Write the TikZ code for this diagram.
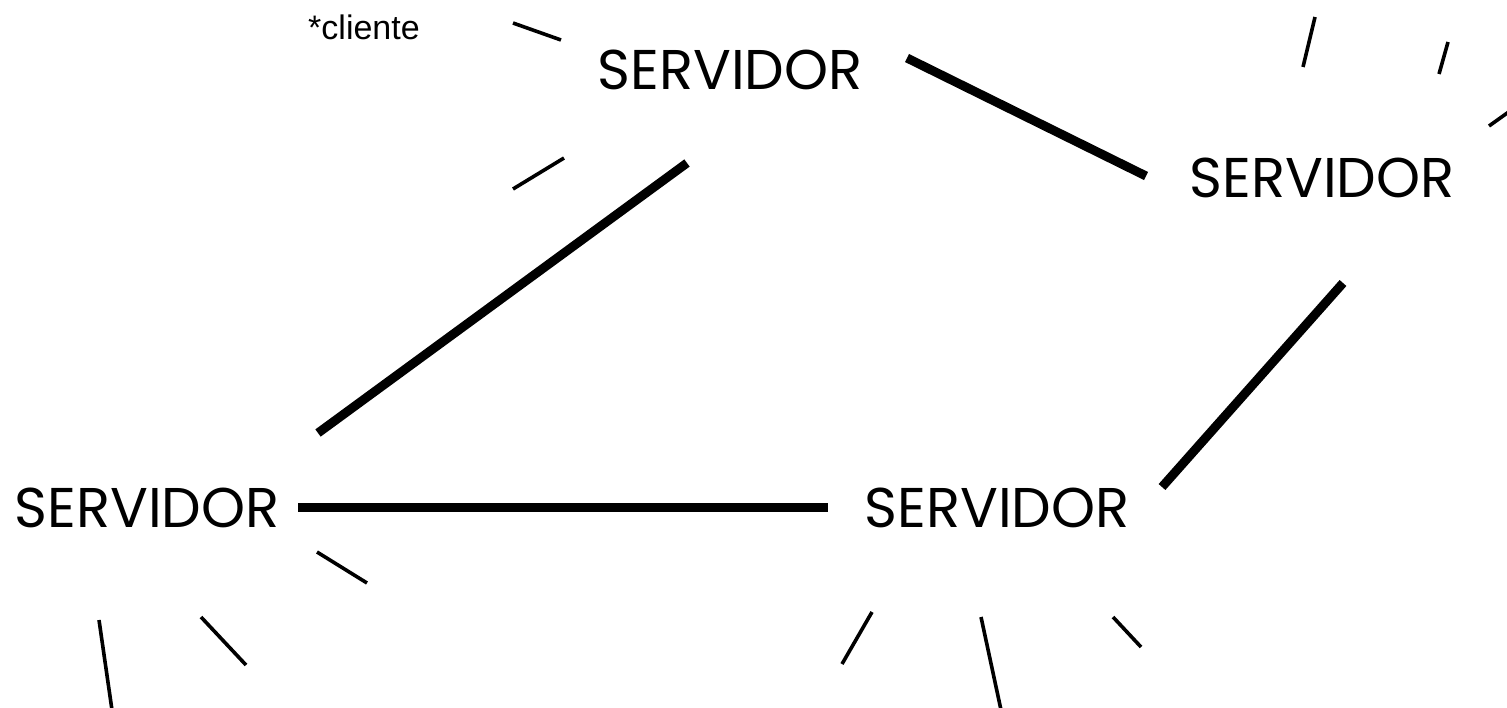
\documentclass[tikz,border=0pt]{standalone}
\usepackage{fontspec}
\setmainfont{Poppins}
\newfontfamily\helv{Liberation Sans}
\usetikzlibrary{positioning}

\begin{document}
\begin{tikzpicture}[
  x=0.5pt, y=-0.5pt,
  server/.style={inner sep=0pt, font=\fontsize{28}{31}\selectfont},
  link/.style={line width=4.5pt},
  client/.style={line width=1.8pt},
  note/.style={inner sep=0pt, font=\helv\fontsize{17}{20}\selectfont}
]
\clip (0,0) rectangle (1507,707);
\useasboundingbox (0,0) rectangle (1507,707);
\node[server] (top) at (730,70) {SERVIDOR};
\node[server] (right) at (1322,178) {SERVIDOR};
\node[server] (left) at (147,508) {SERVIDOR};
\node[server] (bottom) at (997,508) {SERVIDOR};
\node[note] (cliente) at (364,27) {*cliente};
% servidor links
\draw[link] ([shift={(177,-12)}]top.center) -- ([shift={(-176,-2)}]right.center);
\draw[link] ([shift={(-43,93)}]top.center) -- ([shift={(171,-75)}]left.center);
\draw[link] ([shift={(151,-1)}]left.center) -- ([shift={(-169,-1)}]bottom.center);
\draw[link] ([shift={(21,105)}]right.center) -- ([shift={(165,-21)}]bottom.center);
% client stubs
\foreach \s/\ax/\ay/\bx/\by in {top/-217/-47/-169/-30, top/-217/119/-166/88,
    right/-19/-111/-7/-161, right/117/-104/126/-136, right/167/-52/188/-67,
    left/170/44/220/75, left/54/109/99/157, left/-48/112/-35/202,
    bottom/-125/104/-155/156, bottom/-16/109/4/202, bottom/116/109/144/139}
  \draw[client] ([shift={(\ax,\ay)}]\s.center) -- ([shift={(\bx,\by)}]\s.center);
\end{tikzpicture}
\end{document}
